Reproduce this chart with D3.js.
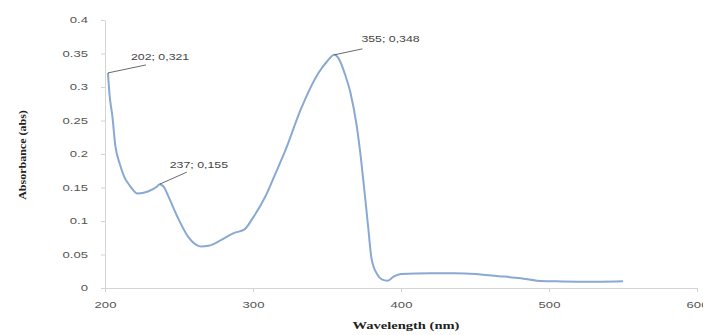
<!DOCTYPE html>
<html lang="en">
<head>
    <meta charset="UTF-8">
    <title>Absorbance spectrum</title>
    <script src="https://d3js.org/d3.v7.min.js"></script>
    <style>
        body { margin: 0; background: #fff; }
        .tick text { font-family: "Liberation Sans", Arial, sans-serif; font-size: 9px; fill: #555; }
        .axis path, .axis line { stroke: #d4d4d4; }
        .title { font-family: "Liberation Serif", "Times New Roman", serif; font-weight: bold; font-size: 10px; fill: #222; }
        .note { font-family: "Liberation Sans", Arial, sans-serif; font-size: 8.5px; fill: #444; }
    </style>
</head>
<body>
    <div id="chart"></div>
    <script>
        // spectrum
        const wavelength = [202, 203, 205, 207, 210, 213, 217, 222, 229, 235, 237, 240, 243, 249, 256, 262, 265,
            270, 278, 287, 294, 300, 308, 315, 322, 332, 338, 344, 350, 355, 358, 362, 366, 370, 373, 376, 378,
            380, 384, 387, 391, 395, 400, 420, 436, 450, 459, 470, 481, 492, 505, 520, 535, 550];
        const absorbance = [0.321, 0.29, 0.256, 0.212, 0.185, 0.166, 0.152, 0.141, 0.144, 0.151, 0.155, 0.150, 0.136,
            0.106, 0.077, 0.064, 0.062, 0.063, 0.071, 0.082, 0.087, 0.105, 0.135, 0.17, 0.206, 0.265, 0.295, 0.32,
            0.338, 0.348, 0.342, 0.32, 0.29, 0.243, 0.192, 0.13, 0.087, 0.045, 0.02, 0.013, 0.011, 0.017, 0.021,
            0.022, 0.022, 0.021, 0.019, 0.017, 0.0145, 0.011, 0.01, 0.0095, 0.0095, 0.01];

        const xTicks = [200, 300, 400, 500, 600];
        const yTicks = [0, 0.05, 0.1, 0.15, 0.2, 0.25, 0.3, 0.35, 0.4];

        // data labels
        const noteX = [202, 237, 355];
        const noteY = [0.321, 0.155, 0.348];
        const noteText = ["202; 0,321", "237; 0,155", "355; 0,348"];

        const width = 703, height = 335;
        const svg = d3.select("#chart").append("svg")
            .attr("width", width)
            .attr("height", height);

        // the reference is stretched sideways, so widen the glyphs a bit
        function stretch(sel, k) {
            sel.each(function () {
                const len = this.getComputedTextLength();
                d3.select(this).attr("textLength", len * k).attr("lengthAdjust", "spacingAndGlyphs");
            });
        }

        const x = d3.scaleLinear().domain([200, 600]).range([105, 697]);
        const y = d3.scaleLinear().domain([0, 0.4]).range([288, 20]);

        // axes
        svg.append("g")
            .attr("class", "axis")
            .attr("transform", "translate(0,288)")
            .call(d3.axisBottom(x).tickValues(xTicks).tickSize(4).tickPadding(10).tickSizeOuter(0))
            .call(g => stretch(g.selectAll(".tick text"), 1.45));

        svg.append("g")
            .attr("class", "axis")
            .attr("transform", "translate(105,0)")
            .call(d3.axisLeft(y).tickValues(yTicks).tickSize(4).tickPadding(13).tickSizeOuter(0)
                .tickFormat(d => d === 0 ? "0" : d3.format("")(+d.toFixed(2))))
            .call(g => stretch(g.selectAll(".tick text"), 1.45));

        // spectrum line
        const line = d3.line()
            .x((d, i) => x(wavelength[i]))
            .y(d => y(d))
            .curve(d3.curveMonotoneX);

        svg.append("path")
            .datum(absorbance)
            .attr("fill", "none")
            .attr("stroke", "#89a9d2")
            .attr("stroke-width", 2)
            .attr("d", line);

        // leader lines + labels
        const offsets = [[38, -8], [27, -12], [28, -6]];
        const textOffsets = [[-15, -5], [-17, -4], [-1, -7]];
        const notes = svg.append("g");
        noteX.forEach((v, i) => {
            const px = x(v), py = y(noteY[i]);
            const [dx, dy] = offsets[i];
            notes.append("line")
                .attr("x1", px).attr("y1", py)
                .attr("x2", px + dx).attr("y2", py + dy)
                .attr("stroke", "#444")
                .attr("stroke-width", 0.8);
            notes.append("text")
                .attr("class", "note")
                .attr("x", px + dx + textOffsets[i][0])
                .attr("y", py + dy + textOffsets[i][1])
                .text(noteText[i])
                .call(s => stretch(s, 1.45));
        });

        // axis titles
        svg.append("text")
            .attr("class", "title")
            .attr("text-anchor", "middle")
            .attr("x", 406)
            .attr("y", 329)
            .text("Wavelength (nm)")
            .call(s => stretch(s, 1.45));

        svg.append("text")
            .attr("class", "title")
            .attr("text-anchor", "middle")
            .attr("transform", "translate(26,155) rotate(-90)")
            .text("Absorbance (abs)")
            .call(s => stretch(s, 1.2));
    </script>
</body>
</html>
